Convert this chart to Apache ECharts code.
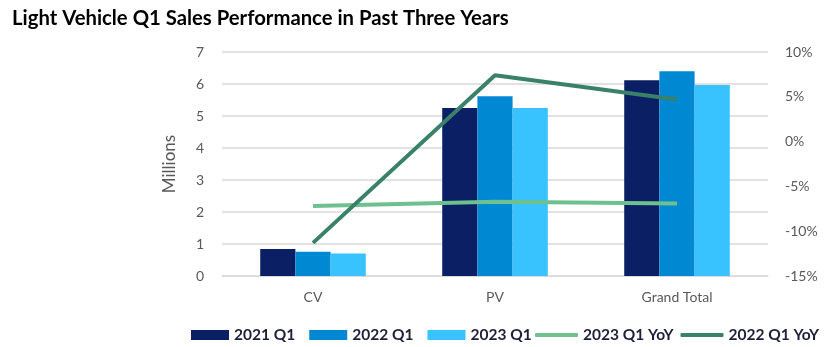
<!DOCTYPE html>
<html><head><meta charset="utf-8">
<script src="https://cdn.jsdelivr.net/npm/echarts@6/dist/echarts.min.js"></script>
<style>html,body{margin:0;padding:0;background:#fff}#c{width:837px;height:347px}</style>
</head><body><div id="c"></div>
<script>
const categories = ['CV', 'PV', 'Grand Total'];
const sales2021 = [0.84, 5.25, 6.12];
const sales2022 = [0.76, 5.62, 6.40];
const sales2023 = [0.70, 5.25, 5.97];
const yoy2023 = [-7.2, -6.7, -6.9];
const yoy2022 = [-11.3, 7.4, 4.7];

const chart = echarts.init(document.getElementById('c'));
const F = 'Lato, "Open Sans", sans-serif';
const bar = (name, data, color) => ({
  name, type: 'bar', data, barGap: '0%', barCategoryGap: '42%',
  itemStyle: { color }, yAxisIndex: 0
});
const line = (name, data, color) => ({
  name, type: 'line', data, yAxisIndex: 1, symbol: 'none',
  lineStyle: { color, width: 4 }, itemStyle: { color }
});
const legendText = { fontFamily: F, fontWeight: 'bold', fontSize: 15.5, color: '#1f1f3a' };
chart.setOption({
  animation: false,
  title: { text: 'Light Vehicle Q1 Sales Performance in Past Three Years', left: 7, top: 3,
    textStyle: { fontFamily: F, fontWeight: 'bold', fontSize: 20.3, color: '#000' } },
  grid: { left: 222, right: 69, top: 52, bottom: 71 },
  legend: [
    { top: 322, left: 186, itemGap: 14, itemWidth: 38, itemHeight: 10, icon: 'rect',
      textStyle: legendText, data: ['2021 Q1', '2022 Q1', '2023 Q1'] },
    { top: 322, left: 530, itemGap: 7, itemWidth: 43, itemHeight: 4, icon: 'roundRect',
      textStyle: legendText, data: ['2023 Q1 YoY', '2022 Q1 YoY'] }
  ],
  xAxis: {
    type: 'category', data: categories,
    axisLine: { lineStyle: { color: '#d9d9d9' } }, axisTick: { show: false },
    axisLabel: { fontFamily: F, fontSize: 14, color: '#595959', margin: 14 }
  },
  yAxis: [
    { type: 'value', min: 0, max: 7, interval: 1, name: 'Millions', nameLocation: 'middle', nameGap: 44,
      nameTextStyle: { fontFamily: F, fontSize: 17, color: '#595959' },
      axisLabel: { fontFamily: F, fontSize: 14, color: '#595959', margin: 18 },
      splitLine: { lineStyle: { color: '#d9d9d9', width: 1.5 } } },
    { type: 'value', min: -15, max: 10, interval: 5, position: 'right',
      axisLabel: { fontFamily: F, fontSize: 14, color: '#595959', margin: 17, formatter: v => v + '%' },
      splitLine: { show: false } }
  ],
  series: [
    bar('2021 Q1', sales2021, '#0a1f64'),
    bar('2022 Q1', sales2022, '#0088d2'),
    bar('2023 Q1', sales2023, '#38c3ff'),
    line('2023 Q1 YoY', yoy2023, '#6fc08f'),
    line('2022 Q1 YoY', yoy2022, '#3a8169')
  ]
});
</script></body></html>
